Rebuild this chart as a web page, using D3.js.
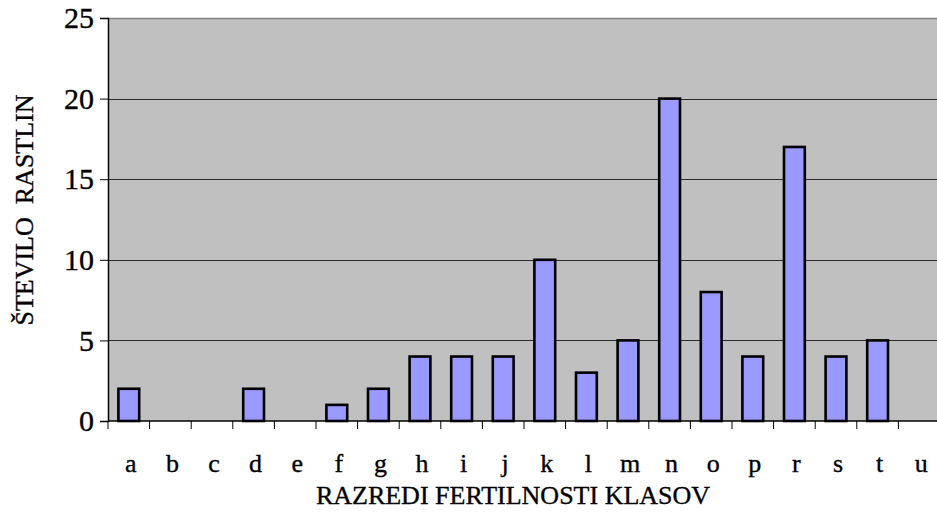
<!DOCTYPE html>
<html>
<head>
<meta charset="utf-8">
<script src="https://cdn.jsdelivr.net/npm/d3@7"></script>
<style>
  html, body { margin: 0; padding: 0; background: #fff; }
  svg { display: block; font-family: "Liberation Serif", "Times New Roman", serif; }
  text { stroke: #000; stroke-width: 0.35px; }
</style>
</head>
<body>
<svg id="chart" width="937" height="513"></svg>
<script>
// classes of ear fertility and number of plants
const categories = ['a','b','c','d','e','f','g','h','i','j','k','l','m','n','o','p','r','s','t','u'];
const values = [2, 0, 0, 2, 0, 1, 2, 4, 4, 4, 10, 3, 5, 20, 8, 4, 17, 4, 5, 0];
const yTicks = [0, 5, 10, 15, 20, 25];
const xTitle = 'RAZREDI FERTILNOSTI KLASOV';
const yTitle = 'ŠTEVILO  RASTLIN';

const margin = { left: 108, right: -3, top: 18, bottom: 92 };
const width = 937 - margin.left - margin.right;
const height = 513 - margin.top - margin.bottom;

const svg = d3.select('#chart');
const g = svg.append('g').attr('transform', `translate(${margin.left},${margin.top})`);

const x = d3.scaleBand()
  .domain(categories)
  .range([0, width])
  .paddingInner(0.5)
  .paddingOuter(0.25);

const y = d3.scaleLinear()
  .domain([0, 25])
  .range([height, 0]);

// plot background
g.append('rect')
  .attr('width', width)
  .attr('height', height)
  .attr('fill', '#c0c0c0');

// top border
g.append('line')
  .attr('x1', 0).attr('x2', width)
  .attr('y1', 0.5).attr('y2', 0.5)
  .attr('stroke', '#808080')
  .attr('stroke-width', 1.5);

// gridlines
g.selectAll('.grid')
  .data(yTicks.filter(d => d > 0 && d < 25))
  .enter()
  .append('line')
    .attr('x1', 0).attr('x2', width)
    .attr('y1', d => Math.round(y(d)) + 0.5)
    .attr('y2', d => Math.round(y(d)) + 0.5)
    .attr('stroke', '#2a2a2a')
    .attr('stroke-width', 1.2);

// bars
g.selectAll('.bar')
  .data(values.map((v, i) => ({ cat: categories[i], v })).filter(d => d.v > 0))
  .enter()
  .append('rect')
    .attr('x', d => x(d.cat))
    .attr('y', d => y(d.v))
    .attr('width', x.bandwidth())
    .attr('height', d => y(0) - y(d.v))
    .attr('fill', '#9999ff')
    .attr('stroke', '#000')
    .attr('stroke-width', 2.6);

// y axis
const yAxis = g.append('g')
  .call(d3.axisLeft(y).tickValues(yTicks).tickSize(8).tickPadding(6));
yAxis.select('.domain').attr('stroke', '#000').attr('stroke-width', 1.5);
yAxis.selectAll('.tick line').attr('stroke', '#000');
yAxis.selectAll('.tick text')
  .attr('font-size', 30)
  .attr('font-family', '"Liberation Serif", serif')
  .attr('fill', '#000');

// x axis: ticks between categories
const bounds = d3.range(categories.length + 1).map(i => i * width / categories.length);
const xAxis = g.append('g').attr('transform', `translate(0,${height})`);
xAxis.append('line')
  .attr('x1', 0).attr('x2', width)
  .attr('y1', 0).attr('y2', 0)
  .attr('stroke', '#000')
  .attr('stroke-width', 1.5);
xAxis.selectAll('.xtick')
  .data(bounds)
  .enter()
  .append('line')
    .attr('x1', d => d).attr('x2', d => d)
    .attr('y1', 0).attr('y2', 8)
    .attr('stroke', '#000');
xAxis.selectAll('.xlabel')
  .data(categories)
  .enter()
  .append('text')
    .attr('x', d => x(d) + x.bandwidth() / 2 + 2)
    .attr('y', 51)
    .attr('text-anchor', 'middle')
    .attr('font-size', 26)
    .attr('fill', '#000')
    .text(d => d);

// axis titles
svg.append('text')
  .attr('x', 513)
  .attr('y', 504)
  .attr('text-anchor', 'middle')
  .attr('font-size', 26)
  .text(xTitle);

svg.append('text')
  .attr('transform', 'translate(33,210) rotate(-90)')
  .attr('text-anchor', 'middle')
  .attr('font-size', 26)
  .style('white-space', 'pre')
  .text(yTitle);
</script>
</body>
</html>
